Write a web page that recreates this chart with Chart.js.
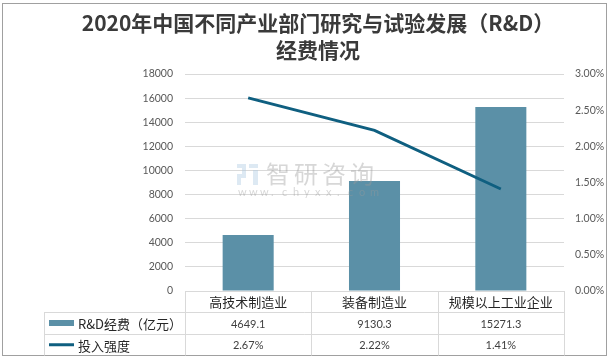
<!DOCTYPE html>
<html>
<head>
<meta charset="utf-8">
<script src="https://cdn.jsdelivr.net/npm/chart.js@4/dist/chart.umd.min.js"></script>
<style>
  html, body { margin: 0; padding: 0; background: #fff; }
  #wrap { width: 611px; height: 360px; }
</style>
</head>
<body>
<div id="wrap"><canvas id="chart" width="611" height="360"></canvas></div>
<script>
// données
const categories = ["高技术制造业", "装备制造业", "规模以上工业企业"];
const rdSpending = [4649.1, 9130.3, 15271.3];
const rdIntensity = [2.67, 2.22, 1.41];
const titleLines = ["2020年中国不同产业部门研究与试验发展（R&D）", "经费情况"];
const seriesNames = ["R&D经费（亿元）", "投入强度"];

const barColor = "#5b90a7";
const lineColor = "#0f5f80";
const cjk = "'Noto Sans CJK SC', 'Noto Sans', sans-serif";
const latin = "Lato, 'Open Sans', sans-serif";

// titre + cadre
const framePlugin = {
  id: "frame",
  beforeDraw(chart) {
    const ctx = chart.ctx;
    ctx.save();
    ctx.fillStyle = "#fff";
    ctx.fillRect(0, 0, chart.width, chart.height);
    ctx.strokeStyle = "#a0a0a0";
    ctx.lineWidth = 1;
    ctx.strokeRect(2.5, 3.5, 604, 352);
    ctx.fillStyle = "#3a3a3a";
    ctx.font = "bold 21px " + cjk;
    ctx.textAlign = "center";
    ctx.textBaseline = "middle";
    ctx.fillText(titleLines[0], 318, 23);
    ctx.fillText(titleLines[1], 318, 50);
    ctx.restore();
  }
};

// filigrane
const watermarkPlugin = {
  id: "watermark",
  afterDatasetsDraw(chart) {
    const ctx = chart.ctx;
    ctx.save();
    ctx.globalAlpha = 0.4;
    ctx.fillStyle = "#aac8e0";
    ctx.fillRect(237, 164, 9, 4);
    ctx.fillRect(242, 168, 4, 6);
    ctx.fillRect(237, 174, 9, 4);
    ctx.fillRect(237, 178, 4, 7);
    ctx.fillRect(249, 164, 9, 4);
    ctx.fillRect(253, 170, 5, 15);
    ctx.fillStyle = "#9a9a9a";
    ctx.font = "24px " + cjk;
    ctx.textBaseline = "middle";
    ctx.textAlign = "left";
    const brand = "智研咨询";
    for (let i = 0; i < brand.length; i++) {
      ctx.fillText(brand[i], 266 + i * 28, 174);
    }
    ctx.font = "11px " + latin;
    const url = "www.chyxx.com";
    for (let i = 0; i < url.length; i++) {
      ctx.fillText(url[i], 238 + i * 11, 192);
    }
    ctx.restore();
  }
};

// tableau de données sous l'axe x
const tablePlugin = {
  id: "dataTable",
  afterDraw(chart) {
    const ctx = chart.ctx;
    const area = chart.chartArea;
    const n = categories.length;
    const colW = (area.right - area.left) / n;
    const xScale = chart.scales.x;
    const top = area.bottom;
    const r1 = top + 21, r2 = top + 43, bottom = 355.5;
    const tableLeft = 44.5;
    ctx.save();
    ctx.strokeStyle = "#d9d9d9";
    ctx.lineWidth = 1;
    ctx.beginPath();
    ctx.moveTo(area.left, Math.round(top) + 0.5);
    ctx.lineTo(area.right, Math.round(top) + 0.5);
    ctx.moveTo(tableLeft, r1 + 0.5);
    ctx.lineTo(area.right, r1 + 0.5);
    ctx.moveTo(tableLeft, r2 + 0.5);
    ctx.lineTo(area.right, r2 + 0.5);
    ctx.moveTo(tableLeft, r1);
    ctx.lineTo(tableLeft, bottom);
    for (let i = 0; i <= n; i++) {
      const x = Math.round(area.left + i * colW) + 0.5;
      ctx.moveTo(x, top);
      ctx.lineTo(x, bottom);
    }
    ctx.stroke();

    ctx.textBaseline = "middle";
    ctx.textAlign = "center";
    ctx.fillStyle = "#262626";
    ctx.font = "13px " + cjk;
    categories.forEach((c, i) => {
      ctx.fillText(c, xScale.getPixelForValue(i), (top + r1) / 2 + 1);
    });
    ctx.fillStyle = "#404040";
    ctx.font = "11px " + latin;
    rdSpending.forEach((v, i) => {
      ctx.fillText(v.toFixed(1), xScale.getPixelForValue(i), (r1 + r2) / 2 + 1);
    });
    rdIntensity.forEach((v, i) => {
      ctx.fillText(v.toFixed(2) + "%", xScale.getPixelForValue(i), (r2 + bottom) / 2 + 1);
    });

    // légende dans le tableau
    ctx.fillStyle = barColor;
    ctx.fillRect(49, (r1 + r2) / 2 - 3, 25, 6);
    ctx.strokeStyle = lineColor;
    ctx.lineWidth = 3;
    ctx.beginPath();
    ctx.moveTo(49, (r2 + bottom) / 2);
    ctx.lineTo(74, (r2 + bottom) / 2);
    ctx.stroke();
    ctx.textAlign = "left";
    ctx.fillStyle = "#262626";
    ctx.font = "13px " + cjk;
    ctx.fillText(seriesNames[0], 78, (r1 + r2) / 2 + 1);
    ctx.fillText(seriesNames[1], 78, (r2 + bottom) / 2 + 1);
    ctx.restore();
  }
};

const canvas = document.getElementById("chart").getContext("2d");

new Chart(canvas, {
  type: "bar",
  data: {
    labels: categories,
    datasets: [
      {
        type: "line",
        label: seriesNames[1],
        data: rdIntensity,
        yAxisID: "y1",
        borderColor: lineColor,
        borderWidth: 3,
        pointRadius: 0,
        tension: 0,
        order: 0,
      },
      {
        label: seriesNames[0],
        data: rdSpending,
        yAxisID: "y",
        backgroundColor: barColor,
        categoryPercentage: 1,
        barPercentage: 0.404,
        order: 1,
      },
    ],
  },
  options: {
    responsive: false,
    animation: false,
    devicePixelRatio: 1,
    layout: { padding: { top: 74, bottom: 69, left: 0, right: 0 } },
    plugins: {
      legend: { display: false },
      title: { display: false },
      tooltip: { enabled: false },
    },
    scales: {
      x: { display: false },
      y: {
        position: "left",
        min: 0,
        max: 18000,
        ticks: {
          stepSize: 2000,
          padding: 12,
          color: "#595959",
          font: { family: latin, size: 10.5 },
          callback: (v) => String(v),
        },
        grid: { color: "#d9d9d9", drawTicks: false },
        border: { display: false },
        afterFit: (s) => { s.width = 185; },
      },
      y1: {
        position: "right",
        min: 0,
        max: 3,
        ticks: {
          stepSize: 0.5,
          padding: 11,
          color: "#595959",
          font: { family: latin, size: 10.5 },
          callback: (v) => v.toFixed(2) + "%",
        },
        grid: { display: false, drawTicks: false },
        border: { display: false },
        afterFit: (s) => { s.width = 47; },
      },
    },
  },
  plugins: [framePlugin, watermarkPlugin, tablePlugin],
});
</script>
</body>
</html>
